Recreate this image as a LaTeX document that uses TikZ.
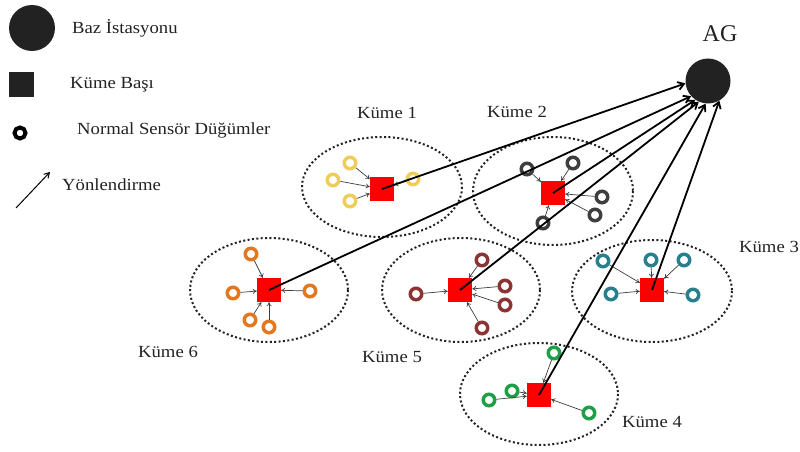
\documentclass[tikz,border=0pt]{standalone}
\usepackage{fontspec}
\setmainfont{Liberation Serif}
\usetikzlibrary{arrows.meta}
\definecolor{ink}{RGB}{34,34,34}
\definecolor{cyel}{RGB}{238,205,90}
\definecolor{cgray}{RGB}{62,62,62}
\definecolor{corng}{RGB}{228,120,30}
\definecolor{cbrwn}{RGB}{140,52,52}
\definecolor{cteal}{RGB}{40,128,142}
\definecolor{cgrn}{RGB}{30,160,70}
\newcommand{\wtext}[1]{\scalebox{1.1}[1]{#1}}
\tikzset{
  lbl/.style={font=\fontsize{17}{20}\selectfont, text=ink, inner sep=0pt},
  zone/.style={draw=ink, line width=2pt, dash pattern=on 2pt off 2.4pt},
  head/.style={rectangle, fill=red, minimum size=24pt, inner sep=0pt},
  sens/.style={circle, draw=#1, line width=3.5pt, fill=white, minimum size=11.5pt, inner sep=0pt},
  feed/.style={draw=cgray, line width=0.7pt, -{To[length=4pt,width=5pt]}},
  route/.style={draw=black, line width=1.8pt, -{Straight Barb[length=6pt,width=8pt]}},
}
\begin{document}
\begin{tikzpicture}[x=1pt,y=-1pt]
\useasboundingbox (0,0) rectangle (800,452);

% legend
\node[circle, fill=ink, minimum size=46pt, inner sep=0pt] (lgbs) at (32,28) {};
\node[lbl, anchor=west] (lgbstx) at (72,28) {\wtext{Baz İstasyonu}};
\node[rectangle, fill=ink, minimum size=25pt, inner sep=0pt] (lgch) at (21,84) {};
\node[lbl, anchor=west] (lgchtx) at (70,85) {\wtext{Küme Başı}};
\node[circle, draw=black, line width=4pt, minimum size=11pt, inner sep=0pt] (lgsn) at (20,133) {};
\node[lbl, anchor=west] (lgsntx) at (77,130) {\wtext{Normal Sensör Düğümler}};
\coordinate (lgar0) at (16,208);
\coordinate (lgar1) at (50,172);
\draw[black, line width=1pt, -{Straight Barb[length=5pt,width=6pt]}] (lgar0) -- (lgar1);
\node[lbl, anchor=west] (lgartx) at (62,185) {\wtext{Yönlendirme}};

% base station
\node[circle, fill=ink, minimum size=45pt, inner sep=0pt] (bs) at (708,81) {};
\node[font=\fontsize{24}{28}\selectfont, text=ink] (bstx) at (720,34) {AG};

% cluster regions
\draw[zone] (382,187) ellipse [x radius=80, y radius=50];
\draw[zone] (553,191) ellipse [x radius=80, y radius=54];
\draw[zone] (652,291) ellipse [x radius=80, y radius=51];
\draw[zone] (539,394) ellipse [x radius=79, y radius=51];
\draw[zone] (461,290) ellipse [x radius=79, y radius=52];
\draw[zone] (269,290) ellipse [x radius=79, y radius=52];

% cluster labels
\node[lbl] (t1) at (387,113) {\wtext{Küme 1}};
\node[lbl] (t2) at (517,112) {\wtext{Küme 2}};
\node[lbl] (t3) at (769,247) {\wtext{Küme 3}};
\node[lbl] (t4) at (652,422) {\wtext{Küme 4}};
\node[lbl] (t5) at (392,357) {\wtext{Küme 5}};
\node[lbl] (t6) at (168,352) {\wtext{Küme 6}};

% cluster heads
\node[head] (h1) at (382,189) {};
\node[head] (h2) at (553,193) {};
\node[head] (h3) at (652,290) {};
\node[head] (h4) at (539,395) {};
\node[head] (h5) at (460,290) {};
\node[head] (h6) at (269,290) {};

% sensors
\node[sens=cyel] (a1) at (350,163) {};
\node[sens=cyel] (a2) at (333,180) {};
\node[sens=cyel] (a3) at (350,201) {};
\node[sens=cyel] (a4) at (413,179) {};

\node[sens=cgray] (b1) at (527,169) {};
\node[sens=cgray] (b2) at (573,163) {};
\node[sens=cgray] (b3) at (602,197) {};
\node[sens=cgray] (b4) at (595,215) {};
\node[sens=cgray] (b5) at (543,223) {};

\node[sens=cteal] (c1) at (603,261) {};
\node[sens=cteal] (c2) at (651,260) {};
\node[sens=cteal] (c3) at (684,260) {};
\node[sens=cteal] (c4) at (611,294) {};
\node[sens=cteal] (c5) at (693,295) {};

\node[sens=cgrn] (d1) at (554,353) {};
\node[sens=cgrn] (d2) at (512,391) {};
\node[sens=cgrn] (d3) at (489,400) {};
\node[sens=cgrn] (d4) at (589,413) {};

\node[sens=cbrwn] (e1) at (482,260) {};
\node[sens=cbrwn] (e2) at (416,294) {};
\node[sens=cbrwn] (e3) at (505,286) {};
\node[sens=cbrwn] (e4) at (505,305) {};
\node[sens=cbrwn] (e5) at (482,328) {};

\node[sens=corng] (f1) at (251,254) {};
\node[sens=corng] (f2) at (233,293) {};
\node[sens=corng] (f3) at (310,291) {};
\node[sens=corng] (f4) at (250,320) {};
\node[sens=corng] (f5) at (269,327) {};

% sensor to head links
\foreach \s in {a1,a2,a3,a4} \draw[feed] (\s) -- (h1);
\foreach \s in {b1,b2,b3,b4,b5} \draw[feed] (\s) -- (h2);
\foreach \s in {c1,c2,c3,c4,c5} \draw[feed] (\s) -- (h3);
\foreach \s in {d1,d2,d3,d4} \draw[feed] (\s) -- (h4);
\foreach \s in {e1,e2,e3,e4,e5} \draw[feed] (\s) -- (h5);
\foreach \s in {f1,f2,f3,f4,f5} \draw[feed] (\s) -- (h6);

% head to base station routes
\draw[route] (h1.center) -- (bs.186);
\draw[route] (h6.center) -- (bs.222);
\draw[route] (h2.center) -- (bs.236);
\draw[route] (h5.center) -- (bs.246);
\draw[route] (h4.center) -- (bs.264);
\draw[route] (h3.center) -- (bs.300);
\end{tikzpicture}
\end{document}
